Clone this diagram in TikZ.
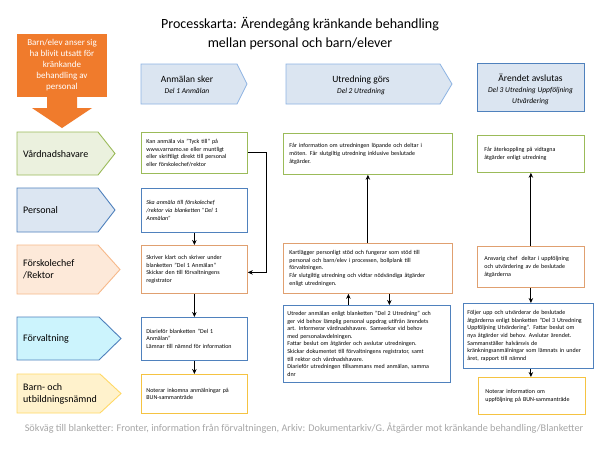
\documentclass[tikz,border=0pt]{standalone}
\usepackage{fontspec}
\setmainfont{Carlito}
\usetikzlibrary{arrows.meta}

\definecolor{hdfill}{HTML}{DBE5F1}
\definecolor{hdline}{HTML}{8EB4E3}
\definecolor{hdlinedk}{HTML}{4F81BD}
\definecolor{callout}{HTML}{F07B2C}
\definecolor{grfill}{HTML}{EBF1DE}
\definecolor{grline}{HTML}{9BBB59}
\definecolor{blfill}{HTML}{DCE6F2}
\definecolor{blline}{HTML}{4F81BD}
\definecolor{orfill}{HTML}{FDE9D9}
\definecolor{orline}{HTML}{F7B98A}
\definecolor{orboxline}{HTML}{E0A070}
\definecolor{cyfill}{HTML}{CCF4FD}
\definecolor{yefill}{HTML}{FFF2CC}
\definecolor{yeline}{HTML}{FFD966}
\definecolor{yeboxline}{HTML}{F5C342}
\definecolor{footgray}{HTML}{A6A6A6}

\newcommand{\boxfont}{\fontsize{6}{7.6}\selectfont}
\newcommand{\subfont}{\fontsize{7.5}{10}\selectfont\itshape}

\tikzset{
  box/.style={draw, line width=0.8pt, fill=white, anchor=north west, align=left,
    inner xsep=5pt, inner ysep=0pt, font=\boxfont},
  grbox/.style={box, draw=grline},
  blbox/.style={box, draw=blline},
  orbox/.style={box, draw=orboxline},
  yebox/.style={box, draw=yeboxline},
  rowlabel/.style={anchor=west, align=left, inner sep=0pt, font=\fontsize{10}{12}\selectfont},
  headarrow/.style={fill=hdfill, draw=hdline, line width=0.8pt},
  headtext/.style={align=center, inner sep=0pt, font=\fontsize{9.5}{11}\selectfont},
  flow/.style={-{Stealth[length=5pt,width=4.5pt]}, line width=1.1pt}
}

\begin{document}
\begin{tikzpicture}[x=1pt, y=-1pt]

\useasboundingbox (0,0) rectangle (613,450);
\fill[white] (0,0) rectangle (613,450);

% Title
\node[align=center, font=\fontsize{14}{19}\selectfont] (title) at (300,33.5)
  {Processkarta: Ärendegång kränkande behandling\\mellan personal och barn/elever};

% Callout
\fill[callout] (17,34) rectangle (107,97);
\fill[callout] (47,97) -- (77,97) -- (77,108) -- (92,108) -- (62,128) -- (32,108) -- (47,108) -- cycle;
\node[align=center, text=white, font=\fontsize{9}{11}\selectfont] (barn) at (62,65.5)
  {Barn/elev anser sig\\ha blivit utsatt för\\kränkande\\behandling av\\personal};

% Phase headers
\draw[headarrow] (141,64) -- (237,64) -- (247,84) -- (237,104) -- (141,104) -- cycle;
\node[headtext] (hanm) at (187,85) {Anmälan sker\\{\subfont Del 1 Anmälan}};
\draw[headarrow] (286,64) -- (440,64) -- (452,84) -- (440,104) -- (286,104) -- cycle;
\node[headtext] (hutr) at (361,85) {Utredning görs\\{\subfont Del 2 Utredning}};
\draw[headarrow, draw=hdlinedk] (477,63) rectangle (584,111);
\node[headtext] (hslut) at (530.5,89) {Ärendet avslutas\\{\subfont Del 3 Utredning Uppföljning}\\{\subfont Utvärdering}};

% Row labels
\draw[fill=grfill, draw=grline, line width=0.9pt] (17,132) -- (98,132) -- (115,153.5) -- (98,175) -- (17,175) -- cycle;
\node[rowlabel] (vhlbl) at (23,153.5) {Vårdnadshavare};
\draw[fill=blfill, draw=blline, line width=0.9pt] (17,188) -- (98,188) -- (115,210) -- (98,232) -- (17,232) -- cycle;
\node[rowlabel] (perslbl) at (23,210) {Personal};
\draw[fill=orfill, draw=orline, line width=0.9pt] (17,245) -- (98,245) -- (120,269.5) -- (98,294) -- (17,294) -- cycle;
\node[rowlabel] (reklbl) at (23,269.5) {Förskolechef\\/Rektor};
\draw[fill=cyfill, draw=blline, line width=0.9pt] (17,317) -- (99,317) -- (121,338.5) -- (99,360) -- (17,360) -- cycle;
\node[rowlabel] (forvlbl) at (23,338.5) {Förvaltning};
\draw[fill=yefill, draw=yeline, line width=0.9pt] (17,374) -- (100,374) -- (121,393.5) -- (100,413) -- (17,413) -- cycle;
\node[rowlabel] (bunlbl) at (23,393.5) {Barn- och\\utbildningsnämnd};

% Column 1: Anmälan
\node[grbox, text width=96pt, minimum height=41pt] (anmvh) at (141,132)
  {Kan anmäla via ”Tyck till” på\\www.varnamo.se eller muntligt\\eller skriftligt direkt till personal\\eller förskolechef/rektor};
\node[blbox, text width=96pt, minimum height=44pt] (anmpers) at (141,188)
  {\itshape Ska anmäla till förskolechef\\/rektor via blanketten ”Del 1\\Anmälan”};
\node[orbox, text width=96pt, minimum height=48pt] (anmrek) at (141,245)
  {Skriver klart och skriver under\\blanketten ”Del 1 Anmälan”\\Skickar den till förvaltningens\\registrator};
\node[blbox, text width=96pt, minimum height=43pt] (anmforv) at (141,317)
  {Diarieför blanketten ”Del 1\\Anmälan”\\Lämnar till nämnd för information};
\node[yebox, text width=96pt, minimum height=39pt] (anmbun) at (141,374)
  {Noterar inkomna anmälningar på\\BUN-sammanträde};

\draw[flow] (anmpers.south) -- (anmrek.north);
\draw[flow] (anmrek.south) -- (anmforv.north);
\draw[flow] (anmforv.south) -- (anmbun.north);
\draw[flow] (anmvh.east) -- ++(19,0) |- ([yshift=-3pt]anmrek.east);

% Column 2: Utredning
\node[grbox, text width=157pt, minimum height=41pt, inner xsep=6pt] (utrvh) at (283,133)
  {Får information om utredningen löpande och deltar i\\möten. Får slutgiltig utredning inklusive beslutade\\åtgärder.};
\node[orbox, text width=157pt, minimum height=50pt, inner xsep=6pt] (utrrek) at (283,243)
  {Kartlägger personligt stöd och fungerar som stöd till\\personal och barn/elev i processen, bollplank till\\förvaltningen.\\Får slutgiltig utredning och vidtar nödvändiga åtgärder\\enligt utredningen.};
\node[blbox, text width=159pt, minimum height=77pt, inner xsep=4pt] (utrforv) at (283,305)
  {Utreder anmälan enligt blanketten ”Del 2 Utredning” och\\ger vid behov lämplig personal uppdrag utifrån ärendets\\art. Informerar vårdnadshavare. Samverkar vid behov\\med personalavdelningen.\\Fattar beslut om åtgärder och avslutar utredningen.\\Skickar dokumentet till förvaltningens registrator, samt\\till rektor och vårdnadshavare.\\Diarieför utredningen tillsammans med anmälan, samma\\dnr};

\draw[flow] (utrrek.north) -- (utrvh.south);
\draw[flow] ([xshift=-18.5pt]utrforv.north) -- ([xshift=-18.5pt]utrforv.north |- utrrek.south);
\draw[flow] ([xshift=21.5pt]utrrek.south) -- ([xshift=21.5pt]utrrek.south |- utrforv.north);

% Column 3: Avslut
\node[grbox, text width=93pt, minimum height=37pt, inner xsep=7pt] (slutvh) at (477,135)
  {Får återkoppling på vidtagna\\åtgärder enligt utredning};
\node[orbox, text width=93pt, minimum height=41pt, inner xsep=7pt] (slutrek) at (477,246)
  {Ansvarig chef\ \ deltar i uppföljning\\och utvärdering av de beslutade\\åtgärderna};
\node[blbox, text width=122pt, minimum height=65pt, inner xsep=4pt] (slutforv) at (463,303)
  {Följer upp och utvärderar de beslutade\\åtgärderna enligt blanketten ”Del 3 Utredning\\Uppföljning Utvärdering”. Fattar beslut om\\nya åtgärder vid behov. Avslutar ärendet.\\Sammanställer halvårsvis de\\kränkningsanmälningar som lämnats in under\\året, rapport till nämnd};
\node[yebox, text width=93pt, minimum height=37pt, inner xsep=7pt] (slutbun) at (478,377)
  {Noterar information om\\uppföljning på BUN-sammanträde};

\draw[flow] (slutrek.north) -- (slutvh.south);
\draw[flow] (slutrek.south) -- (slutrek.south |- slutforv.north);
\draw[flow] (slutrek.south |- slutforv.south) -- (slutrek.south |- slutbun.north);

% Footer
\node[text=footgray, font=\fontsize{10.2}{12}\selectfont] (sokvag) at (304,428)
  {Sökväg till blanketter: Fronter, information från förvaltningen, Arkiv: Dokumentarkiv/G. Åtgärder mot kränkande behandling/Blanketter};

\end{tikzpicture}
\end{document}
